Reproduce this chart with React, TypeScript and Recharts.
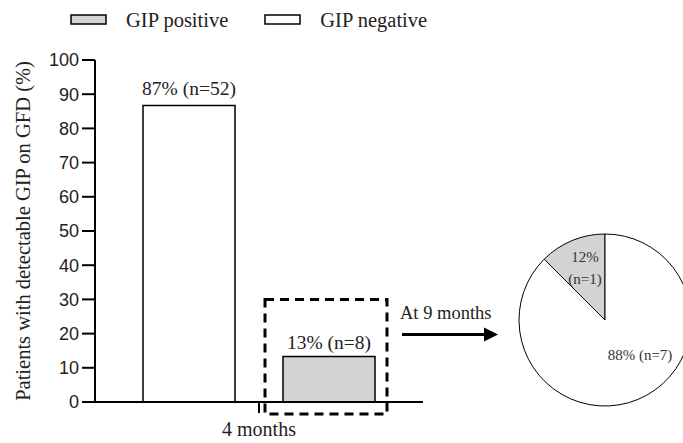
import { BarChart, Bar, XAxis, YAxis, Legend, LabelList, PieChart, Pie, Cell } from 'recharts'

const periods = ['4 months']
const gipNegative = [86.7]
const gipPositive = [13.3]
const negativeLabels = ['87% (n=52)']
const positiveLabels = ['13% (n=8)']
const yTicks = [0, 10, 20, 30, 40, 50, 60, 70, 80, 90, 100]

const followUpNames = ['GIP positive', 'GIP negative']
const followUpCounts = [1, 7]
const followUpLabels = [['12%', '(n=1)'], ['88% (n=7)']]
const followUpNote = 'At 9 months'

const GRAY = '#d3d3d3'
const SERIF = '"Liberation Serif", "Times New Roman", serif'
const SANS = '"Liberation Sans", Arial, sans-serif'

const rows = periods.map((p, i) => ({
  period: p,
  negative: gipNegative[i],
  positive: gipPositive[i],
  negLabel: negativeLabels[i],
  posLabel: positiveLabels[i],
}))

const pieData = followUpNames.map((name, i) => ({ name, value: followUpCounts[i] }))

// gray bar with the dashed box around it and the arrow to the pie
function PositiveShape(props: any) {
  const { x, y, width, height } = props
  const bx = x - 18
  const by = y - 57
  const bw = width + 30
  const bh = height + 69
  const ax = bx + bw + 15
  const ay = y - 22
  return (
    <g>
      <rect x={x} y={y} width={width} height={height} fill={GRAY} stroke="#000" strokeWidth={1.5} />
      <rect x={bx} y={by} width={bw} height={bh} fill="none" stroke="#000" strokeWidth={3} strokeDasharray="9 6" />
      <text x={ax - 2} y={ay - 16} fontFamily={SERIF} fontSize={18.5} fill="#222">{followUpNote}</text>
      <line x1={ax} y1={ay} x2={ax + 84} y2={ay} stroke="#000" strokeWidth={3} />
      <polygon points={`${ax + 96},${ay} ${ax + 82},${ay - 7} ${ax + 82},${ay + 7}`} fill="#000" />
    </g>
  )
}

function LegendBox() {
  const items = [
    { name: followUpNames[0], fill: GRAY },
    { name: followUpNames[1], fill: '#fff' },
  ]
  return (
    <div style={{ display: 'flex', height: 34, alignItems: 'center', paddingLeft: 70, whiteSpace: 'nowrap' }}>
      {items.map((it) => (
        <div key={it.name} style={{ display: 'flex', alignItems: 'center', marginRight: 36 }}>
          <svg width={37} height={12} style={{ marginRight: 19 }}>
            <rect x={1} y={1} width={35} height={9} fill={it.fill} stroke="#000" strokeWidth={1.5} />
          </svg>
          <span style={{ fontFamily: SERIF, fontSize: 20.5, color: '#222' }}>{it.name}</span>
        </div>
      ))}
    </div>
  )
}

function PieLabel(props: any) {
  const { cx, cy, index } = props
  const lines = followUpLabels[index]
  const lx = index === 0 ? cx - 20 : cx + 35
  const ly = index === 0 ? cy - 58 : cy + 40
  return (
    <text x={lx} y={ly} textAnchor="middle" fontFamily={SERIF} fontSize={15} fill="#333">
      {lines.map((l: string, i: number) => (
        <tspan key={i} x={lx} dy={i === 0 ? 0 : 22}>{l}</tspan>
      ))}
    </text>
  )
}

export default function App() {
  return (
    <div style={{ position: 'relative', width: 683, height: 443, background: '#fff', overflow: 'hidden' }}>
      <style>{`body{margin:0}`}</style>
      <BarChart
        width={683}
        height={443}
        data={rows}
        margin={{ top: 26, right: 260, bottom: 11, left: 0 }}
        barSize={92}
        barGap={48}
      >
        <Legend
          verticalAlign="top"
          align="left"
          wrapperStyle={{ width: 600, left: 0, top: 3 }}
          content={() => <LegendBox />}
        />
        <XAxis
          dataKey="period"
          height={30}
          axisLine={{ stroke: '#000', strokeWidth: 2 }}
          tickLine={{ stroke: '#000', strokeWidth: 2 }}
          tickSize={11}
          tickMargin={9}
          tick={{ fontFamily: SERIF, fontSize: 20, fill: '#222' }}
        />
        <YAxis
          domain={[0, 100]}
          ticks={yTicks}
          width={95}
          axisLine={{ stroke: '#000', strokeWidth: 2 }}
          tickLine={{ stroke: '#000', strokeWidth: 2 }}
          tickSize={13}
          tickMargin={3}
          tick={{ fontFamily: SANS, fontSize: 18, fill: '#222' }}
          label={({ viewBox }: any) => (
            <text
              x={23}
              y={viewBox.y + viewBox.height / 2}
              transform={`rotate(-90 23 ${viewBox.y + viewBox.height / 2})`}
              textAnchor="middle"
              dominantBaseline="central"
              fontFamily={SERIF}
              fontSize={20.5}
              fill="#222"
            >
              Patients with detectable GIP on GFD (%)
            </text>
          )}
        />
        <Bar dataKey="negative" fill="#fff" stroke="#000" strokeWidth={1.5} isAnimationActive={false}>
          <LabelList dataKey="negLabel" position="top" offset={10} fontFamily={SERIF} fontSize={19.5} fill="#222" />
        </Bar>
        <Bar dataKey="positive" fill={GRAY} shape={<PositiveShape />} isAnimationActive={false}>
          <LabelList dataKey="posLabel" position="top" offset={8} fontFamily={SERIF} fontSize={19.5} fill="#222" />
        </Bar>
      </BarChart>
      <div style={{ position: 'absolute', left: 505, top: 225 }}>
        <PieChart width={200} height={200} margin={{ top: 0, right: 0, bottom: 0, left: 0 }}>
          <Pie
            data={pieData}
            dataKey="value"
            cx={100}
            cy={95}
            outerRadius={86}
            startAngle={90}
            endAngle={450}
            stroke="#000"
            strokeWidth={1}
            label={PieLabel}
            labelLine={false}
            isAnimationActive={false}
          >
            <Cell fill={GRAY} />
            <Cell fill="#fff" />
          </Pie>
        </PieChart>
      </div>
    </div>
  )
}
